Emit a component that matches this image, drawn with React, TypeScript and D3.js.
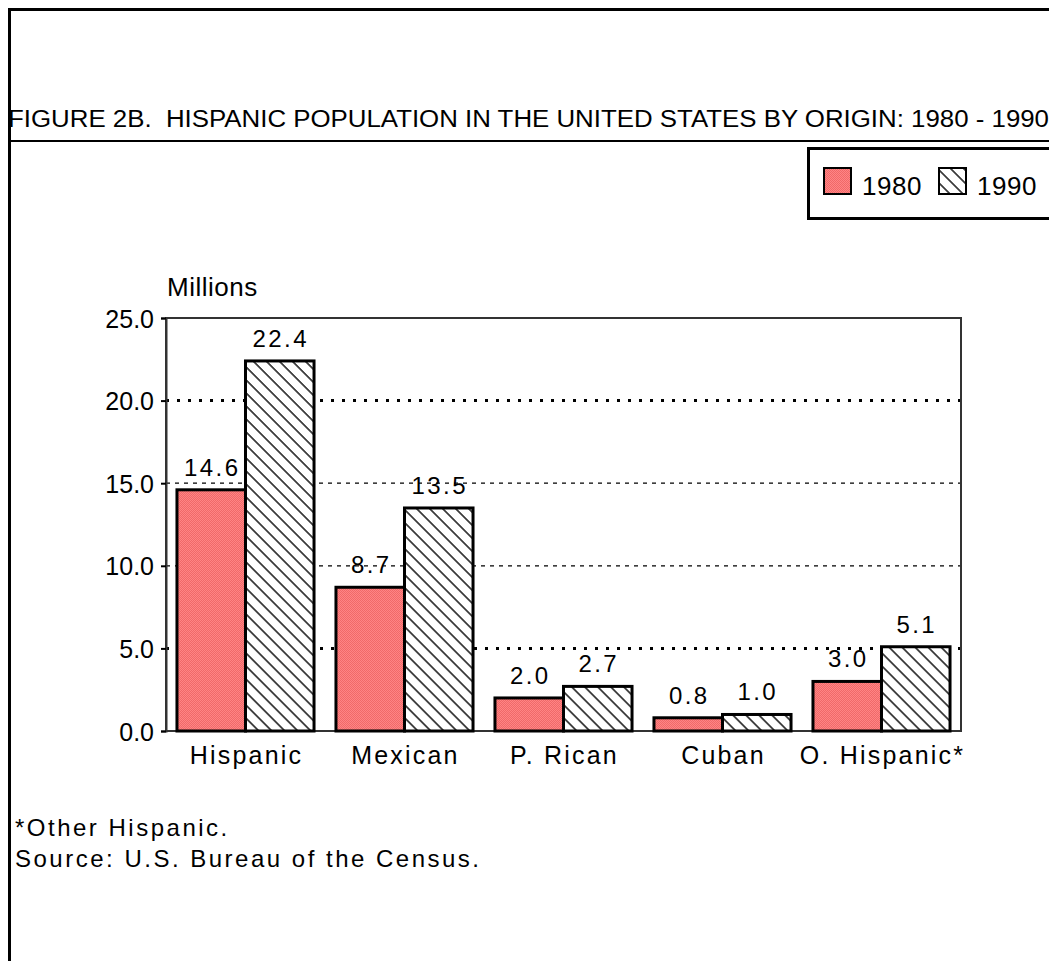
import React, { useEffect, useRef } from "react";
import * as d3 from "d3";

// chart data
const categories = ["Hispanic", "Mexican", "P. Rican", "Cuban", "O. Hispanic*"];
const seriesNames = ["1980", "1990"];
const values1980 = [14.6, 8.7, 2.0, 0.8, 3.0];
const values1990 = [22.4, 13.5, 2.7, 1.0, 5.1];
const yTicks = [0, 5, 10, 15, 20, 25];
const boldGrid = [5, 20]; // these two grid lines are drawn with heavy dots

const titleText =
  "FIGURE 2B.  HISPANIC POPULATION IN THE UNITED STATES BY ORIGIN: 1980 - 1990";
const footnotes = ["*Other Hispanic.", "Source: U.S. Bureau of the Census."];

const FONT = "'Liberation Sans', Arial, Helvetica, sans-serif";

const App = () => {
  const svgRef = useRef<SVGSVGElement>(null);

  useEffect(() => {
    const svg = d3.select(svgRef.current);
    svg.selectAll("*").remove();

    const W = 1049;
    const H = 961;
    const plot = { left: 166, top: 318, right: 961, bottom: 731 };

    svg.attr("width", W).attr("height", H);

    // patterns: stippled salmon for 1980, diagonal hatch for 1990
    const defs = svg.append("defs");
    const stip = defs
      .append("pattern")
      .attr("id", "stipple")
      .attr("patternUnits", "userSpaceOnUse")
      .attr("width", 2)
      .attr("height", 2);
    stip.append("rect").attr("width", 2).attr("height", 2).attr("fill", "#ff8585");
    stip.append("rect").attr("width", 1).attr("height", 1).attr("fill", "#f06868");
    stip.append("rect").attr("x", 1).attr("y", 1).attr("width", 1).attr("height", 1).attr("fill", "#f06868");

    const hatch = defs
      .append("pattern")
      .attr("id", "hatch")
      .attr("patternUnits", "userSpaceOnUse")
      .attr("width", 9.2)
      .attr("height", 10)
      .attr("patternTransform", "rotate(-45)");
    hatch.append("rect").attr("width", 9.2).attr("height", 10).attr("fill", "#fff");
    hatch
      .append("line")
      .attr("x1", 1)
      .attr("x2", 1)
      .attr("y1", 0)
      .attr("y2", 10)
      .attr("stroke", "#000")
      .attr("stroke-width", 1.4);

    const fills = ["url(#stipple)", "url(#hatch)"];

    // page frame (scanned figure border)
    svg.append("line").attr("x1", 9).attr("x2", W).attr("y1", 9.5).attr("y2", 9.5)
      .attr("stroke", "#000").attr("stroke-width", 3);
    svg.append("line").attr("x1", 9.5).attr("x2", 9.5).attr("y1", 8).attr("y2", H)
      .attr("stroke", "#000").attr("stroke-width", 3);

    // title + rule
    svg
      .append("text")
      .attr("x", 8)
      .attr("y", 127)
      .attr("textLength", 1041)
      .attr("lengthAdjust", "spacingAndGlyphs")
      .style("font-family", "'Liberation Sans Narrow', " + FONT)
      .style("font-size", "23.5px")
      .style("white-space", "pre")
      .text(titleText);
    svg.append("line").attr("x1", 8).attr("x2", W).attr("y1", 141).attr("y2", 141)
      .attr("stroke", "#000").attr("stroke-width", 2);

    // legend
    svg
      .append("rect")
      .attr("x", 808.5)
      .attr("y", 148.5)
      .attr("width", 260)
      .attr("height", 70)
      .attr("fill", "#fff")
      .attr("stroke", "#000")
      .attr("stroke-width", 3);
    const legendX = [824, 939];
    seriesNames.forEach((s, i) => {
      svg
        .append("rect")
        .attr("x", legendX[i])
        .attr("y", 168)
        .attr("width", 27)
        .attr("height", 26)
        .attr("fill", fills[i])
        .attr("stroke", "#000")
        .attr("stroke-width", 2);
      svg
        .append("text")
        .attr("x", legendX[i] + 38)
        .attr("y", 195)
        .style("font-family", FONT)
        .style("font-size", "26px")
        .style("letter-spacing", "0.5px")
        .text(s);
    });

    // scales
    const x = d3
      .scaleBand()
      .domain(categories)
      .range([plot.left, plot.right])
      .paddingInner(0.138)
      .paddingOuter(0.069);
    const xs = d3.scaleBand().domain(seriesNames).range([0, x.bandwidth()]);
    const y = d3.scaleLinear().domain([0, 25]).range([plot.bottom, plot.top]);

    // grid lines
    yTicks
      .filter((t) => t > 0 && t < 25)
      .forEach((t) => {
        const bold = boldGrid.includes(t);
        svg
          .append("line")
          .attr("x1", plot.left)
          .attr("x2", plot.right + 4)
          .attr("y1", y(t))
          .attr("y2", y(t))
          .attr("stroke", "#000")
          .attr("stroke-width", bold ? 3 : 1.2)
          .attr("stroke-dasharray", bold ? "3,8" : "4,5");
      });

    // plot frame
    svg
      .append("rect")
      .attr("x", plot.left)
      .attr("y", plot.top)
      .attr("width", plot.right - plot.left)
      .attr("height", plot.bottom - plot.top)
      .attr("fill", "none")
      .attr("stroke", "#333")
      .attr("stroke-width", 2);

    // y axis
    const yAxis = svg
      .append("g")
      .attr("transform", `translate(${plot.left},0)`)
      .call(d3.axisLeft(y).tickValues(yTicks).tickFormat(d3.format(".1f")).tickSize(5).tickPadding(7));
    yAxis.select(".domain").attr("stroke", "#333").attr("stroke-width", 2);
    yAxis.selectAll("line").attr("stroke-width", 2);
    yAxis
      .selectAll("text")
      .style("font-family", FONT)
      .style("font-size", "25px")
      .attr("dy", "0.36em");

    svg
      .append("text")
      .attr("x", 167)
      .attr("y", 296)
      .style("font-family", FONT)
      .style("font-size", "26px")
      .style("letter-spacing", "0.5px")
      .text("Millions");

    // bars
    const rows = categories.map((c, i) => ({
      cat: c,
      vals: [values1980[i], values1990[i]],
    }));

    const grp = svg
      .selectAll(".grp")
      .data(rows)
      .enter()
      .append("g")
      .attr("class", "grp")
      .attr("transform", (d) => `translate(${x(d.cat)},0)`);

    grp
      .selectAll("rect")
      .data((d) => d.vals.map((v, j) => ({ v, s: seriesNames[j], j })))
      .enter()
      .append("rect")
      .attr("x", (d) => xs(d.s))
      .attr("y", (d) => y(d.v))
      .attr("width", xs.bandwidth())
      .attr("height", (d) => y(0) - y(d.v))
      .attr("fill", (d) => fills[d.j])
      .attr("stroke", "#000")
      .attr("stroke-width", 3);

    // value labels
    grp
      .selectAll("text.val")
      .data((d) => d.vals.map((v, j) => ({ v, s: seriesNames[j] })))
      .enter()
      .append("text")
      .attr("class", "val")
      .attr("x", (d) => xs(d.s) + xs.bandwidth() / 2 + 1)
      .attr("y", (d) => y(d.v) - 14)
      .attr("text-anchor", "middle")
      .style("font-family", FONT)
      .style("font-size", "24px")
      .style("letter-spacing", "2.4px")
      .text((d) => d3.format(".1f")(d.v));

    // category labels
    grp
      .append("text")
      .attr("x", x.bandwidth() / 2 + 1)
      .attr("y", 764)
      .attr("text-anchor", "middle")
      .style("font-family", FONT)
      .style("font-size", "25px")
      .style("letter-spacing", "2.2px")
      .text((d) => d.cat);

    // footnotes
    footnotes.forEach((f, i) => {
      svg
        .append("text")
        .attr("x", 15)
        .attr("y", 836 + i * 31)
        .style("font-family", FONT)
        .style("font-size", "24px")
        .style("letter-spacing", "2.5px")
        .text(f);
    });
  }, []);

  return (
    <div style={{ position: "absolute", left: 0, top: 0 }}>
      <svg ref={svgRef} width={1049} height={961} style={{ display: "block", background: "#fff" }}></svg>
    </div>
  );
};

export default App;
